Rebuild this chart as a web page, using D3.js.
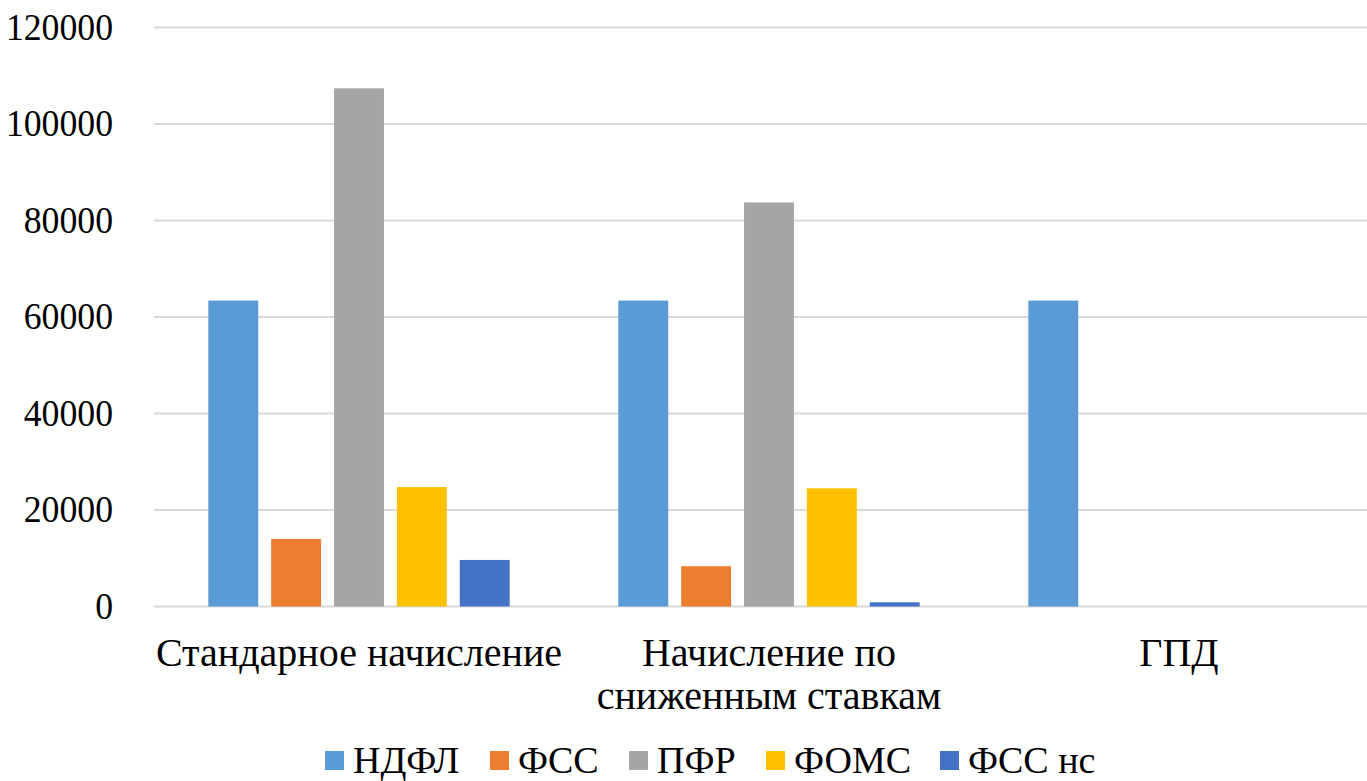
<!DOCTYPE html>
<html>
<head>
<meta charset="utf-8">
<script src="https://cdn.jsdelivr.net/npm/d3@7"></script>
</head>
<body style="margin:0">
<script>
const categories = ["Стандарное начисление", "Начисление по\nсниженным ставкам", "ГПД"];
const seriesNames = ["НДФЛ", "ФСС", "ПФР", "ФОМС", "ФСС нс"];
const ndfl = [63400, 63400, 63400];
const fss = [14000, 8350, 0];
const pfr = [107400, 83750, 0];
const foms = [24750, 24500, 0];
const fssNs = [9650, 870, 0];
const yTicks = [0, 20000, 40000, 60000, 80000, 100000, 120000];
const colors = ["#5B9BD5", "#ED7D31", "#A5A5A5", "#FFC000", "#4472C4"];

const seriesValues = [ndfl, fss, pfr, foms, fssNs];

const chartWidth = 1367, chartHeight = 781;
const plotLeft = 154, plotRight = 1384, plotTop = 27.5, plotBottom = 606.5;
const serif = "Times New Roman";
// legend layout (left edge of each swatch)
const legendX = [325, 490, 629, 766, 940];

const svg = d3.select("body").append("svg")
  .attr("width", chartWidth)
  .attr("height", chartHeight);

const x0 = d3.scaleBand().domain(categories).range([plotLeft, plotRight]);
const bw = x0.bandwidth();
const x1 = d3.scaleBand().domain(seriesNames)
  .range([bw * 0.1325, bw * 0.8675])
  .paddingInner(0.206);
const y = d3.scaleLinear().domain([0, 120000]).range([plotBottom, plotTop]);

// gridlines
svg.append("g")
  .selectAll("line")
  .data(yTicks)
  .join("line")
  .attr("x1", plotLeft)
  .attr("x2", plotRight)
  .attr("y1", d => y(d))
  .attr("y2", d => y(d))
  .attr("stroke", "#D9D9D9")
  .attr("stroke-width", 2);

// y labels
svg.append("g")
  .selectAll("text")
  .data(yTicks)
  .join("text")
  .attr("transform", d => `translate(${plotLeft - 41},${y(d) + 12}) scale(0.94,1)`)
  .attr("text-anchor", "end")
  .attr("font-size", 38)
  .attr("font-family", serif)
  .text(d => String(d));

// bars
const groups = svg.append("g")
  .selectAll("g")
  .data(categories)
  .join("g")
  .attr("transform", d => `translate(${x0(d)},0)`);

groups.selectAll("rect")
  .data((c, ci) => seriesNames.map((s, si) => ({ s, si, v: seriesValues[si][ci] })))
  .join("rect")
  .attr("x", d => x1(d.s))
  .attr("width", x1.bandwidth())
  .attr("y", d => y(d.v))
  .attr("height", d => y(0) - y(d.v))
  .attr("fill", d => colors[d.si]);

// category labels, one text per line
const catLines = [];
categories.forEach(c => c.split("\n").forEach((line, i) => catLines.push({ c, line, i })));
svg.append("g")
  .selectAll("text")
  .data(catLines)
  .join("text")
  .attr("x", d => x0(d.c) + bw / 2)
  .attr("y", d => 666 + d.i * 43)
  .attr("text-anchor", "middle")
  .attr("font-size", 40)
  .attr("font-family", serif)
  .text(d => d.line);

// legend
const legend = svg.append("g")
  .selectAll("g")
  .data(seriesNames)
  .join("g")
  .attr("transform", (d, i) => `translate(${legendX[i]},0)`);

legend.append("rect")
  .attr("x", 0).attr("y", 751)
  .attr("width", 19).attr("height", 19)
  .attr("fill", (d, i) => colors[i]);

legend.append("text")
  .attr("x", 28)
  .attr("y", 773)
  .attr("font-size", 38)
  .attr("font-family", serif)
  .text(d => d);
</script>
</body>
</html>
